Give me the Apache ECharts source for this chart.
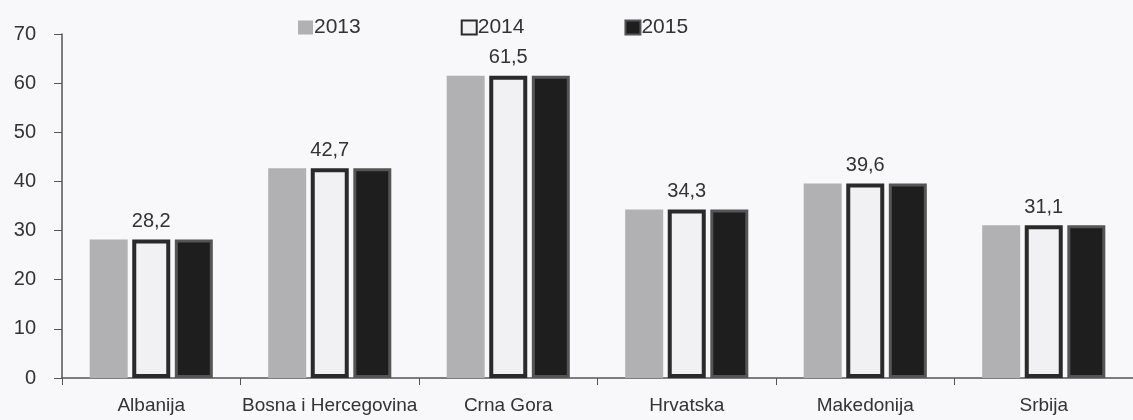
<!DOCTYPE html>
<html>
<head>
<meta charset="utf-8">
<script src="https://cdn.jsdelivr.net/npm/echarts@6/dist/echarts.min.js"></script>
<style>
  html, body { margin: 0; padding: 0; background: #f8f7f9; }
  #main { width: 1133px; height: 420px; }
</style>
</head>
<body>
<div id="main"></div>
<script>
// kategorije i vrijednosti
var countries = ['Albanija', 'Bosna i Hercegovina', 'Crna Gora', 'Hrvatska', 'Makedonija', 'Srbija'];
var years = ['2013', '2014', '2015'];
var values2013 = [28.2, 42.7, 61.5, 34.3, 39.6, 31.1];
var values2014 = [28.2, 42.7, 61.5, 34.3, 39.6, 31.1];
var values2015 = [28.2, 42.7, 61.5, 34.3, 39.6, 31.1];
var yTicks = [0, 10, 20, 30, 40, 50, 60, 70];

var font = 'Liberation Sans, Arial, sans-serif';

var option = {
    backgroundColor: '#f8f7f9',
    animation: false,
    textStyle: { fontFamily: font },
    legend: {
        data: years,
        left: 293,
        top: 12,
        itemWidth: 15,
        itemHeight: 14,
        itemGap: 100,
        icon: 'rect',
        textStyle: { fontSize: 21, color: '#333', fontFamily: font, padding: [0, 0, 0, -4] }
    },
    grid: { left: 62, right: 0, top: 34, bottom: 42 },
    xAxis: {
        type: 'category',
        data: countries,
        axisLine: { lineStyle: { color: '#555', width: 1.5 } },
        axisTick: { show: true, length: 7, lineStyle: { color: '#555' } },
        axisLabel: { interval: 0, fontSize: 19, color: '#333', margin: 18, fontFamily: font }
    },
    yAxis: {
        type: 'value',
        min: yTicks[0],
        max: yTicks[yTicks.length - 1],
        interval: 10,
        splitLine: { show: false },
        axisLine: { show: true, lineStyle: { color: '#555', width: 1.5 } },
        axisTick: { show: true, length: 8, lineStyle: { color: '#555' } },
        axisLabel: { fontSize: 20, color: '#333', margin: 26, fontFamily: font }
    },
    series: [
        {
            name: '2013',
            type: 'bar',
            data: values2013,
            barWidth: 38,
            barGap: '12%',
            itemStyle: { color: '#b1b0b2' }
        },
        {
            name: '2014',
            type: 'bar',
            data: values2014,
            barWidth: 38,
            barGap: '12%',
            itemStyle: { color: '#f1f0f2', borderColor: '#2a2a2a', borderWidth: 4 },
            label: {
                show: true,
                position: 'top',
                distance: 8,
                fontSize: 20,
                color: '#333',
                fontFamily: font,
                formatter: function (p) { return String(p.value).replace('.', ','); }
            }
        },
        {
            name: '2015',
            type: 'bar',
            data: values2015,
            barWidth: 38,
            barGap: '12%',
            itemStyle: { color: '#1e1e1e', borderColor: '#555', borderWidth: 3 }
        }
    ]
};

var chart = echarts.init(document.getElementById('main'));
chart.setOption(option);
</script>
</body>
</html>
